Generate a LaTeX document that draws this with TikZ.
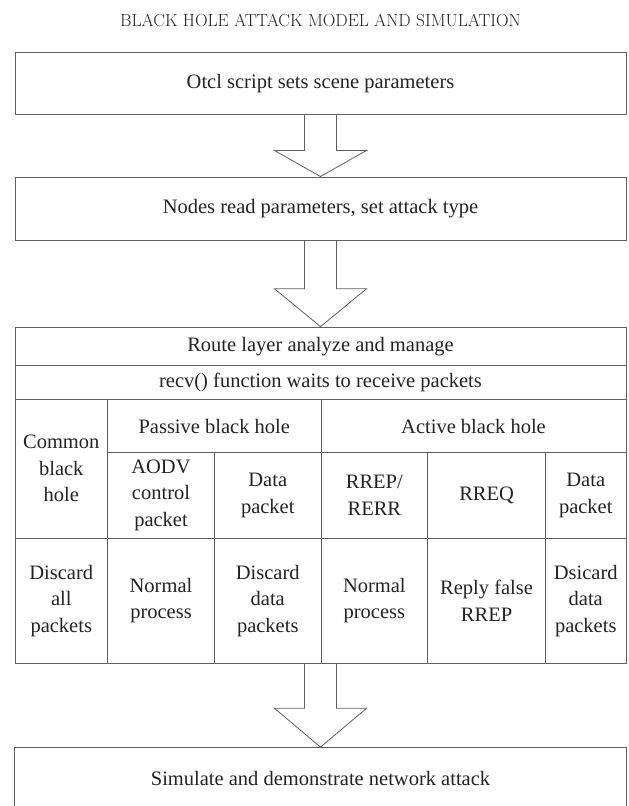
\documentclass[tikz,border=0pt]{standalone}
\usepackage{fontspec}
\newfontfamily\bodyfont{Liberation Serif}
\usetikzlibrary{calc}
\definecolor{linec}{RGB}{95,95,95}
\definecolor{textc}{RGB}{35,35,35}
\tikzset{
  bodytext/.style={text=textc, font=\bodyfont\fontsize{20.5}{26.5}\selectfont, align=center},
  cell/.style={bodytext, draw=linec, line width=0.8pt, inner sep=0pt},
  bigbox/.style={bodytext, draw=linec, line width=1pt, inner sep=0pt},
  boxline/.style={draw=linec, line width=1pt},
  blockarrow/.style={draw=linec, line width=0.8pt, line join=miter},
}
% \tcell[style]{name}{x0}{y0}{x1}{y1}{text}
\newcommand\tcell[7][cell]{%
  \node[#1, minimum width={(#5-#3)*1pt}, minimum height={(#6-#4)*1pt}] (#2) at ({(#3+#5)/2},{(#4+#6)/2}) {#7};}
\begin{document}
\begin{tikzpicture}[x=1pt,y=-1pt]
\useasboundingbox (0,0) rectangle (629,806);
% title
\node[text=textc, font=\fontsize{17.5}{20}\selectfont\addfontfeature{LetterSpace=6}] (title) at (320.5,20) {BLACK HOLE ATTACK MODEL AND SIMULATION};
% boxes
\tcell[bigbox]{b1}{15}{52.7}{626}{114}{Otcl script sets scene parameters}
\tcell[bigbox]{b2}{15}{177}{626}{240.7}{Nodes read parameters, set attack type}
% table
\tcell{r1}{15}{327}{626}{365.5}{Route layer analyze and manage}
\tcell{r2}{15}{365.5}{626}{399.5}{recv() function waits to receive packets}
\tcell{common}{15}{399.5}{107.5}{538}{Common\\black\\hole}
\tcell{passive}{107.5}{399.5}{321}{452.7}{Passive black hole}
\tcell{active}{321}{399.5}{626}{452.7}{Active black hole}
\tcell{aodv}{107.5}{452.7}{214.5}{538}{AODV\\control\\packet}
\tcell{pdata}{214.5}{452.7}{321}{538}{Data\\packet}
\tcell{rrep}{321}{452.7}{427.7}{538}{RREP/\\RERR}
\tcell{rreq}{427.7}{452.7}{545.5}{538}{RREQ}
\tcell{adata}{545.5}{452.7}{626}{538}{Data\\packet}
\tcell{disc}{15}{538}{107.5}{663.3}{Discard\\all\\packets}
\tcell{norm1}{107.5}{538}{214.5}{663.3}{Normal\\process}
\tcell{disc2}{214.5}{538}{321}{663.3}{Discard\\data\\packets}
\tcell{norm2}{321}{538}{427.7}{663.3}{Normal\\process}
\tcell{reply}{427.7}{538}{545.5}{663.3}{Reply false\\RREP}
\tcell{dsic}{545.5}{538}{626}{663.3}{Dsicard\\data\\packets}
\coordinate (tbl) at (320.5,663.3);
% last box (open at the bottom edge)
\tcell[{bodytext, inner sep=0pt}]{b4}{15}{747.3}{626}{809}{Simulate and demonstrate network attack}
\draw[boxline] (b4.west |- 0,806) -- (b4.north west) -- (b4.north east) -- (b4.east |- 0,806);
% block arrows
\draw[blockarrow] ($(b1.south)+(-16,0)$) |- ($(b1.south)+(-46,36)$) -- (b2.north) -- ($(b1.south)+(46,36)$) -| ($(b1.south)+(16,0)$);
\draw[blockarrow] ($(b2.south)+(-16,0)$) |- ($(b2.south)+(-46,47.6)$) -- (r1.north) -- ($(b2.south)+(46,47.6)$) -| ($(b2.south)+(16,0)$);
\draw[blockarrow] ($(tbl)+(-16,0)$) |- ($(tbl)+(-46,45)$) -- (b4.north) -- ($(tbl)+(46,45)$) -| ($(tbl)+(16,0)$);
\end{tikzpicture}
\end{document}
